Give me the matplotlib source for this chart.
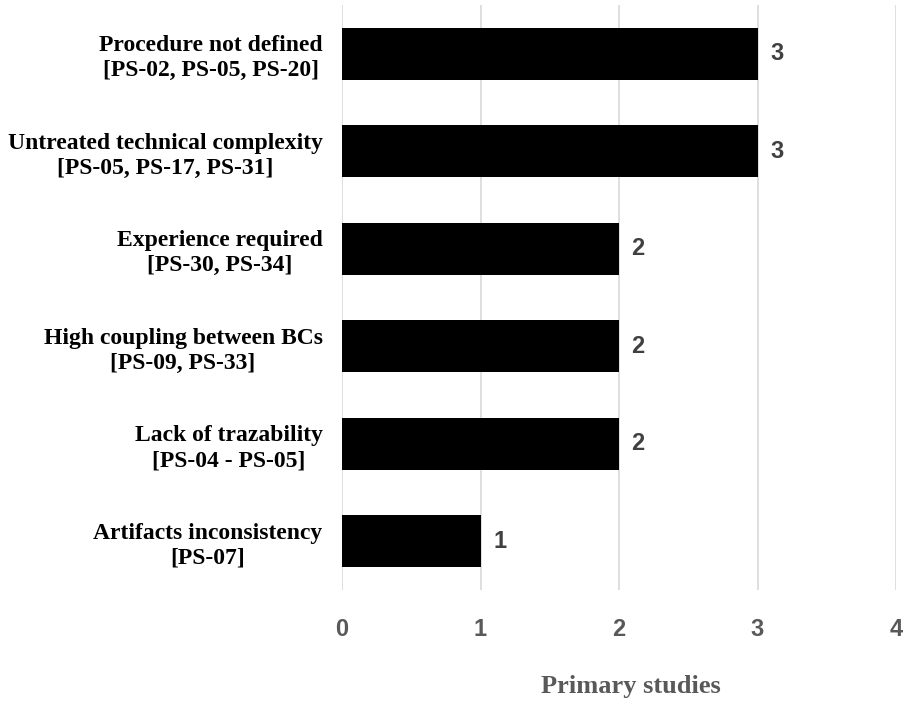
import matplotlib.pyplot as plt

categories = [
    "Procedure not defined\n[PS-02, PS-05, PS-20]",
    "Untreated technical complexity\n[PS-05, PS-17, PS-31]",
    "Experience required\n[PS-30, PS-34]",
    "High coupling between BCs\n[PS-09, PS-33]",
    "Lack of trazability\n[PS-04 - PS-05]",
    "Artifacts inconsistency\n[PS-07]",
]
counts = [3, 3, 2, 2, 2, 1]
xticks = [0, 1, 2, 3, 4]

gray = "#595959"

fig = plt.figure(figsize=(9.08, 7.03), dpi=100)
ax = fig.add_axes([0.3767, 0.1607, 0.6101, 0.8322])

ypos = list(range(len(categories)))
ax.barh(ypos, counts, height=0.535, color="black", zorder=3)
ax.set_ylim(len(categories) - 0.5, -0.5)
ax.set_xlim(0, 4)

for y, v in zip(ypos, counts):
    ax.text(v + 0.09, y, str(v), ha="left", va="center", fontsize=17,
            fontweight="bold", color="#404040", family="Liberation Sans")

ax.set_yticks(ypos)
ax.set_yticklabels(categories, fontsize=17, fontweight="bold",
                   family="Liberation Serif", multialignment="center",
                   linespacing=1.25)
ax.set_xticks(xticks)
ax.set_xticklabels([str(t) for t in xticks], fontsize=17, fontweight="bold",
                   color=gray, family="Liberation Sans")
ax.tick_params(axis="both", length=0)
ax.tick_params(axis="y", pad=14)
ax.tick_params(axis="x", pad=20)

ax.grid(axis="x", color="#d9d9d9", linewidth=1.2, zorder=0)
for s in ax.spines.values():
    s.set_visible(False)

ax.set_xlabel("Primary studies", fontsize=19, fontweight="bold", color=gray,
              family="Liberation Serif")
ax.xaxis.set_label_coords(0.522, -0.145)

fig.savefig("out.png", dpi=100)
